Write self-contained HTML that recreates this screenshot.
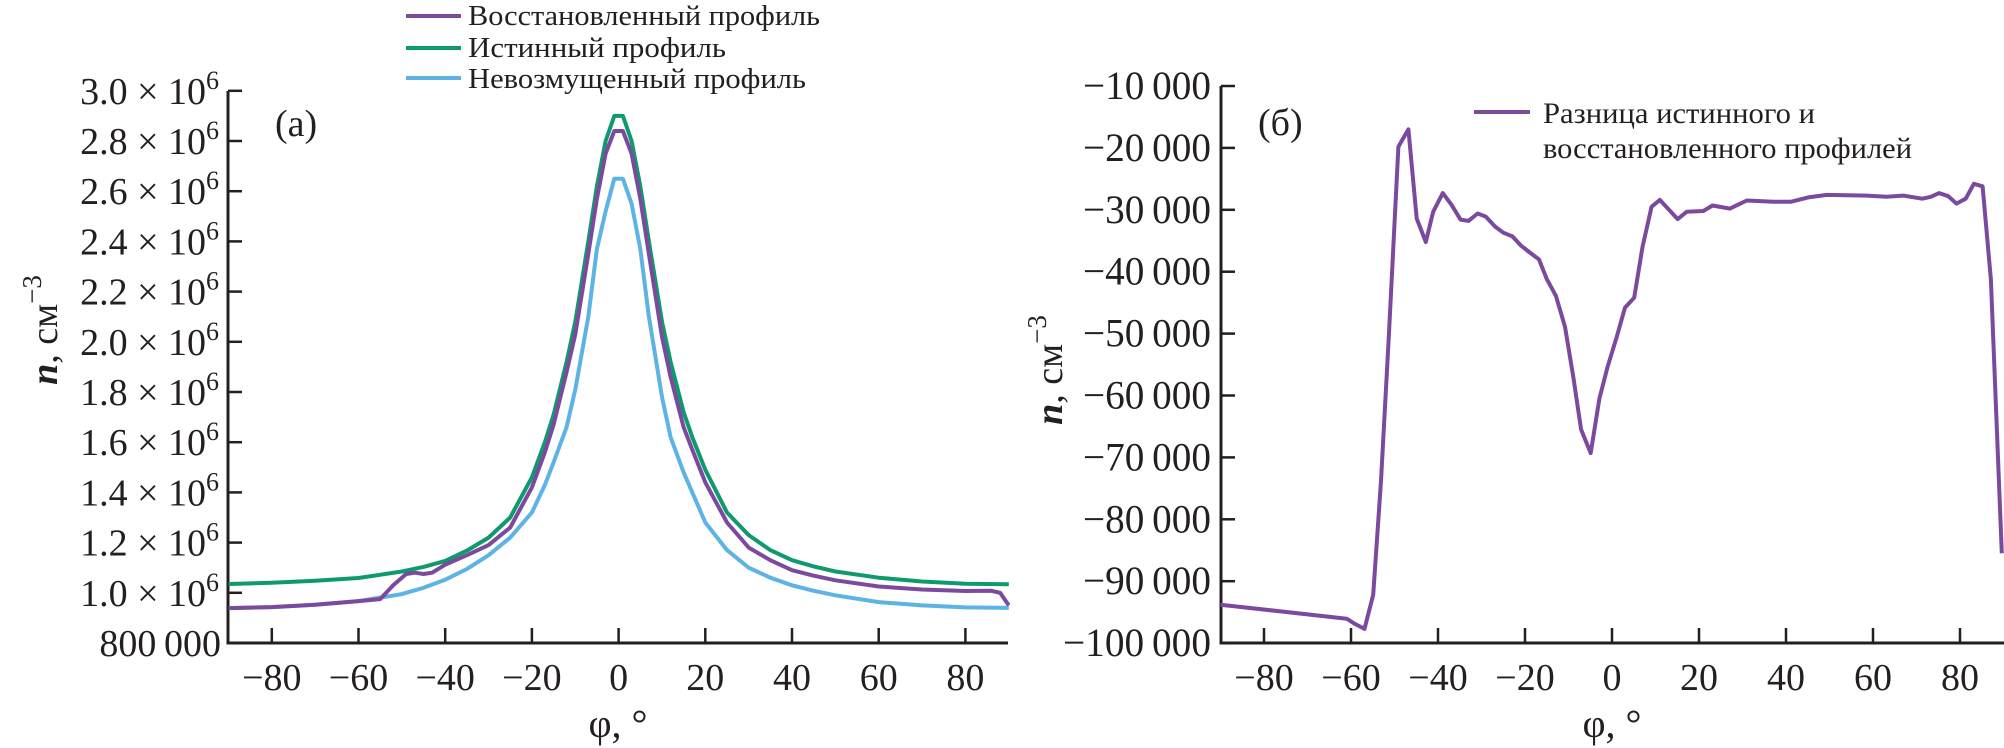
<!DOCTYPE html>
<html><head><meta charset="utf-8">
<style>
html,body{margin:0;padding:0;background:#fff;}
svg{display:block;font-family:"Liberation Serif","DejaVu Serif",serif;}
</style></head>
<body>
<svg id="chart" width="2004" height="748" viewBox="0 0 2004 748" xmlns="http://www.w3.org/2000/svg">
<g id="left"></g>
<g id="right"></g>
</svg>
<script>
// ---------- Panel (a) data ----------
const phiA = [-90,-80,-70,-60,-50,-45,-40,-35,-30,-25,-20,-17,-15,-12,-10,-7,-5,-3,-1,0,1,3,5,7,10,12,15,17,20,25,30,35,40,45,50,60,70,80,90];
const trueProfile = [1.035,1.040,1.048,1.059,1.085,1.103,1.127,1.168,1.22,1.30,1.46,1.60,1.71,1.92,2.08,2.40,2.62,2.80,2.90,2.90,2.90,2.80,2.62,2.40,2.08,1.92,1.72,1.62,1.49,1.32,1.23,1.17,1.13,1.105,1.085,1.06,1.045,1.036,1.034];
const unperturbedProfile = [0.939,0.943,0.952,0.967,0.995,1.02,1.052,1.095,1.15,1.22,1.32,1.43,1.52,1.66,1.81,2.10,2.37,2.52,2.65,2.65,2.65,2.55,2.37,2.10,1.78,1.62,1.48,1.40,1.28,1.17,1.10,1.06,1.03,1.008,0.99,0.963,0.95,0.942,0.94];
const phiRec = [-90,-80,-70,-60,-55,-52,-49,-47,-45,-43,-40,-35,-30,-25,-20,-17,-15,-12,-10,-7,-5,-3,-1,0,1,3,5,7,10,12,15,17,20,25,30,35,40,45,50,60,70,80,86,88,90];
const reconstructedProfile = [0.939,0.943,0.952,0.967,0.975,1.03,1.075,1.08,1.075,1.08,1.112,1.15,1.19,1.26,1.42,1.56,1.67,1.88,2.03,2.35,2.57,2.75,2.84,2.84,2.84,2.75,2.57,2.35,2.02,1.86,1.66,1.57,1.44,1.28,1.18,1.13,1.09,1.068,1.05,1.025,1.013,1.007,1.008,1.0,0.95];
const yTicksA = [0.8,1.0,1.2,1.4,1.6,1.8,2.0,2.2,2.4,2.6,2.8,3.0];
const xTicks = [-80,-60,-40,-20,0,20,40,60,80];

// ---------- Panel (b) data ----------
const phiB = [-90,-61,-59.1,-56.9,-54.9,-53.1,-51.3,-49.1,-46.8,-44.9,-42.8,-41.1,-38.9,-36.9,-34.8,-33.0,-30.9,-29.0,-26.9,-25.0,-22.9,-20.9,-18.9,-16.8,-15.0,-12.9,-10.8,-8.9,-7.1,-4.9,-2.9,-1.0,1.1,3.0,5.1,7.0,9.1,11.0,15.1,17.2,21.0,23.1,27.1,28.9,31.0,37.1,41.1,45.1,49.4,58.6,63.1,67.0,71.3,73.3,75.2,77.3,79.2,81.3,83.2,85.2,87.1,89.6];
const difference = [-93800,-96060,-96900,-97700,-92200,-73800,-50500,-19800,-17000,-31400,-35200,-30300,-27300,-29200,-31600,-31800,-30600,-31100,-32700,-33700,-34300,-35800,-36900,-38000,-41200,-43900,-48900,-57000,-65500,-69300,-60500,-55300,-50500,-45800,-44200,-36000,-29500,-28400,-31500,-30300,-30200,-29300,-29800,-29200,-28500,-28700,-28700,-28000,-27600,-27700,-27900,-27700,-28200,-27900,-27300,-27800,-29000,-28200,-25800,-26200,-41300,-85500];
const yTicksB = [-100000,-90000,-80000,-70000,-60000,-50000,-40000,-30000,-20000,-10000];
const yTickLabelsB = ["\u2212100\u2009000","\u221290\u2009000","\u221280\u2009000","\u221270\u2009000","\u221260\u2009000","\u221250\u2009000","\u221240\u2009000","\u221230\u2009000","\u221220\u2009000","\u221210\u2009000"];

const NS = "http://www.w3.org/2000/svg";
const AX = "#231f20";
function mk(tag, attrs, parent){const e=document.createElementNS(NS,tag);for(const k in attrs)e.setAttribute(k,attrs[k]);parent.appendChild(e);return e;}
function fmtX(v){return v<0?"\u2212"+(-v):String(v);}

const xA = p => 618.6 + p*4.335;
const yA = v => 643 - (v-0.8)*251;
const xB = p => 1612 + p*4.35;
const yB = v => 86 + (-10000 - v)/10000*61.9;

function drawAxes(g, x0, x1, yTop, xs, prefix){
  const ax = mk('path',{d:`M${x0} ${yTop}V643H${x1}`,fill:'none',stroke:AX,'stroke-width':3},g);
  
  
  xTicks.forEach(t=>{
    const X = xs(t);
    const tk = mk('line',{x1:X,x2:X,y1:643,y2:628,stroke:AX,'stroke-width':2.5},g);
    
    
    const lb = mk('text',{x:X,y:690,'font-size':38,'text-anchor':'middle',fill:AX},g);
    lb.textContent = fmtX(t);
    
    
  });
}

const gA = document.getElementById('left');
drawAxes(gA, 228, 1008, 91, xA, 'panel-a');
yTicksA.forEach(v=>{
  const Y = yA(v);
  const tk = mk('line',{x1:228,x2:242,y1:Y,y2:Y,stroke:AX,'stroke-width':2.5},gA);
  
  
  let lb;
  if (Math.abs(v-0.8)<1e-9){
    lb = mk('text',{x:221,y:Y+13,'font-size':38,'text-anchor':'end',fill:AX},gA);
    lb.textContent = "800\u2009000";
  } else {
    lb = mk('text',{x:219,y:Y+13,'font-size':38,'text-anchor':'end',fill:AX},gA);
    const t1 = mk('tspan',{},lb); t1.textContent = v.toFixed(1)+" \u00d7 10";
    const t2 = mk('tspan',{'font-size':26,dy:-15},lb); t2.textContent = "6";
  }
  
  
});
function series(g, xs, ys, px, py, color, name){
  const d = xs.map((p,i)=>(i?'L':'M')+px(p).toFixed(1)+' '+py(ys[i]).toFixed(1)).join('');
  const s = mk('path',{d,fill:'none',stroke:color,'stroke-width':4,'stroke-linejoin':'round'},g);
  
  
}
series(gA, phiA, unperturbedProfile, xA, yA, '#5cb3e4', 'unperturbed-profile-line');
series(gA, phiA, trueProfile, xA, yA, '#0f9a6e', 'true-profile-line');
series(gA, phiRec, reconstructedProfile, xA, yA, '#7b4a9f', 'reconstructed-profile-line');
</script>
<script>
(function(){
const g = document.getElementById('left');
g.insertAdjacentHTML('beforeend', `
<g>
 <line x1="406" x2="461" y1="16" y2="16" stroke="#7b4a9f" stroke-width="4"/>
 <text x="468" y="25" font-size="29" textLength="352" lengthAdjust="spacingAndGlyphs" fill="#231f20">Восстановленный профиль</text>
 <line x1="406" x2="461" y1="48" y2="48" stroke="#0f9a6e" stroke-width="4"/>
 <text x="468" y="57" font-size="29" textLength="258" lengthAdjust="spacingAndGlyphs" fill="#231f20">Истинный профиль</text>
 <line x1="406" x2="461" y1="78" y2="78" stroke="#5cb3e4" stroke-width="4"/>
 <text x="468" y="88" font-size="29" textLength="338" lengthAdjust="spacingAndGlyphs" fill="#231f20">Невозмущенный профиль</text>
</g>
<text x="275" y="136" font-size="38" fill="#231f20">(а)</text>
<text x="618" y="737" font-size="40" text-anchor="middle" fill="#231f20">φ, °</text>
<text transform="translate(57,330) rotate(-90)" font-size="38" text-anchor="middle" fill="#231f20"><tspan font-style="italic" font-weight="bold">n</tspan>, см<tspan font-size="27" dy="-16">−3</tspan></text>
`);
const g2 = document.getElementById('right');
g2.insertAdjacentHTML('beforeend', `
<line x1="1474" x2="1530" y1="112" y2="112" stroke="#7b4a9f" stroke-width="4"/>
<text font-size="30" fill="#231f20"><tspan x="1543" y="123" textLength="272" lengthAdjust="spacingAndGlyphs">Разница истинного и</tspan><tspan x="1543" y="158" textLength="369" lengthAdjust="spacingAndGlyphs">восстановленного профилей</tspan></text>
<text x="1258" y="135" font-size="38" fill="#231f20">(б)</text>
<text x="1612" y="737" font-size="40" text-anchor="middle" fill="#231f20">φ, °</text>
<text transform="translate(1062,370) rotate(-90)" font-size="38" text-anchor="middle" fill="#231f20"><tspan font-style="italic" font-weight="bold">n</tspan>, см<tspan font-size="27" dy="-16">−3</tspan></text>
`);
})();
</script>
<script>
(function(){
const gB = document.getElementById('right');
drawAxes(gB, 1221, 2004, 86, xB, 'panel-b');
yTicksB.forEach((v,i)=>{
  const Y = yB(v);
  const tk = mk('line',{x1:1221,x2:1235,y1:Y,y2:Y,stroke:AX,'stroke-width':2.5},gB);
  
  
  const lbl = yTickLabelsB[i];
  const w = lbl.length>7 ? 148 : 128;
  const lb = mk('text',{x:1211,y:Y+13,'font-size':40,'text-anchor':'end',textLength:w,lengthAdjust:'spacingAndGlyphs',fill:AX},gB);
  lb.textContent = lbl;
  
  
});
series(gB, phiB, difference, xB, yB, '#7b4a9f', 'difference-line');
})();
</script>
</body></html>
